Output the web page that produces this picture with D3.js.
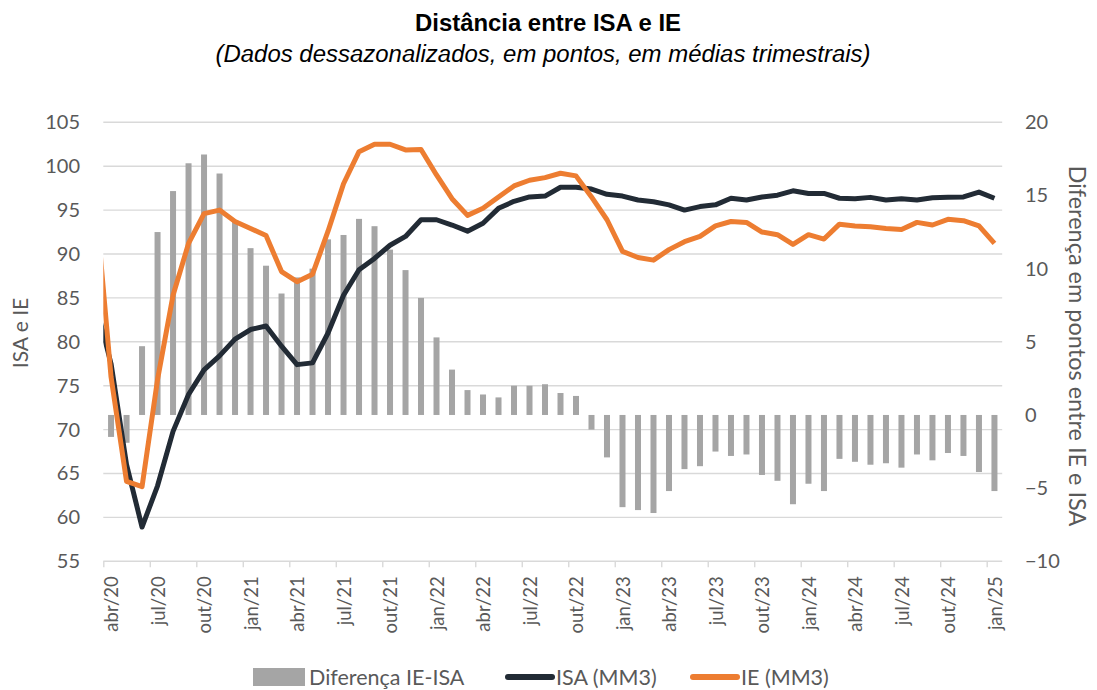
<!DOCTYPE html>
<html>
<head>
<meta charset="utf-8">
<script src="https://cdn.jsdelivr.net/npm/d3@7"></script>
<style>
body { margin: 0; background: #fff; }
svg text { font-family: Lato, "Open Sans", sans-serif; fill: #595959; }
</style>
</head>
<body>
<svg id="chart"></svg>
<script>
"use strict";

// months (mar/20 is only there so the lines enter the plot from the left edge)
var months = [
    "mar/20", "abr/20", "mai/20", "jun/20", "jul/20", "ago/20", "set/20", "out/20", "nov/20", "dez/20",
    "jan/21", "fev/21", "mar/21", "abr/21", "mai/21", "jun/21", "jul/21", "ago/21", "set/21", "out/21", "nov/21", "dez/21",
    "jan/22", "fev/22", "mar/22", "abr/22", "mai/22", "jun/22", "jul/22", "ago/22", "set/22", "out/22", "nov/22", "dez/22",
    "jan/23", "fev/23", "mar/23", "abr/23", "mai/23", "jun/23", "jul/23", "ago/23", "set/23", "out/23", "nov/23", "dez/23",
    "jan/24", "fev/24", "mar/24", "abr/24", "mai/24", "jun/24", "jul/24", "ago/24", "set/24", "out/24", "nov/24", "dez/24",
    "jan/25"
];

var tickLabels = ["abr/20", "jul/20", "out/20", "jan/21", "abr/21", "jul/21", "out/21", "jan/22", "abr/22", "jul/22",
    "out/22", "jan/23", "abr/23", "jul/23", "out/23", "jan/24", "abr/24", "jul/24", "out/24", "jan/25"];

var isa = [
    84.4, 77.5, 66.0, 58.9, 63.6, 69.8, 74.0, 76.8, 78.4, 80.3,
    81.4, 81.8, 79.5, 77.4, 77.6, 81.0, 85.3, 88.2, 89.5, 91.0, 92.0, 93.9,
    93.9, 93.3, 92.6, 93.5, 95.2, 96.0, 96.5, 96.6, 97.6, 97.6, 97.4, 96.8,
    96.6, 96.15, 95.95, 95.6, 95.0, 95.4, 95.6, 96.35, 96.15, 96.5, 96.7, 97.2,
    96.9, 96.9, 96.35, 96.3, 96.45, 96.15, 96.3, 96.15, 96.4, 96.45, 96.5, 97.05,
    96.35
];

var ie = [
    96.1, 76.0, 64.1, 63.5, 75.7, 85.3, 91.2, 94.6, 95.0, 93.7,
    92.9, 92.1, 88.0, 86.85, 87.7, 92.6, 98.0, 101.65, 102.5, 102.5, 101.85, 101.9,
    99.0, 96.3, 94.4, 95.2, 96.5, 97.75, 98.4, 98.7, 99.2, 98.9, 96.5, 93.9,
    90.3, 89.6, 89.3, 90.5, 91.4, 92.0, 93.2, 93.7, 93.6, 92.5, 92.2, 91.1,
    92.2, 91.7, 93.4, 93.2, 93.1, 92.9, 92.8, 93.6, 93.3, 93.95, 93.8, 93.2,
    91.2
];

// diferença IE-ISA (no bar for mar/20)
var diff = [
    null, -1.5, -1.9, 4.7, 12.5, 15.3, 17.2, 17.8, 16.5, 13.3,
    11.4, 10.2, 8.3, 9.4, 10.0, 12.0, 12.3, 13.4, 12.9, 11.3, 9.9, 8.0,
    5.3, 3.1, 1.7, 1.4, 1.2, 2.0, 2.0, 2.1, 1.5, 1.3, -1.0, -2.9,
    -6.3, -6.5, -6.7, -5.2, -3.7, -3.5, -2.5, -2.8, -2.7, -4.1, -4.5, -6.1,
    -4.7, -5.2, -3.0, -3.2, -3.4, -3.3, -3.6, -2.7, -3.1, -2.6, -2.8, -3.9,
    -5.2
];

var leftTicks = [55, 60, 65, 70, 75, 80, 85, 90, 95, 100, 105];
var rightTicks = [-10, -5, 0, 5, 10, 15, 20];

var svg_width = 1097;
var svg_height = 690;
var plotLeft = 103.3, plotRight = 1002.2, plotTop = 122.3, plotBottom = 561.3;

var grid_color = "#d9d9d9";
var isa_color = "#222b35";
var ie_color = "#ed7d31";
var bar_color = "#a5a5a5";

var svg = d3.select("#chart")
    .attr("width", svg_width)
    .attr("height", svg_height);

var xScale = d3.scaleLinear()
    .domain([0.5, months.length - 0.5])
    .range([plotLeft, plotRight]);
var yLeft = d3.scaleLinear().domain([55, 105]).range([plotBottom, plotTop]);
var yRight = d3.scaleLinear().domain([-10, 20]).range([plotBottom, plotTop]);

svg.append("defs").append("clipPath")
    .attr("id", "plot-clip")
    .append("rect")
    .attr("x", plotLeft)
    .attr("y", 0)
    .attr("width", plotRight - plotLeft)
    .attr("height", svg_height);

// gridlines
svg.append("g")
    .attr("class", "grid")
    .selectAll("line")
    .data(leftTicks)
    .join("line")
    .attr("x1", plotLeft)
    .attr("x2", plotRight)
    .attr("y1", function(d) {return yLeft(d);})
    .attr("y2", function(d) {return yLeft(d);})
    .attr("stroke", grid_color)
    .attr("stroke-width", 1.4);

// Eixo x
var xAxis = svg.append("g")
    .attr("class", "axis axis--x")
    .attr("transform", "translate(0," + plotBottom + ")")
    .call(d3.axisBottom(xScale)
        .tickValues(tickLabels.map(function(l) {return months.indexOf(l) - 0.5;}))
        .tickFormat(function(d) {return months[d + 0.5];})
        .tickSize(6)
        .tickSizeOuter(0));
xAxis.select(".domain").remove();
xAxis.selectAll(".tick line").attr("stroke", grid_color).attr("stroke-width", 1.4);
xAxis.selectAll(".tick text")
    .attr("transform", "rotate(-90)")
    .attr("text-anchor", "end")
    .attr("x", -15)
    .attr("y", 8)
    .attr("dy", "0.35em")
    .style("font-size", "18.5px")
    .style("font-family", "Lato, sans-serif")
    .attr("fill", "#595959");

// Eixo y esquerdo
var yAxisL = svg.append("g")
    .attr("class", "axis axis--y")
    .attr("transform", "translate(" + 80 + ",0)")
    .call(d3.axisLeft(yLeft).tickValues(leftTicks).tickSize(0).tickPadding(0));
yAxisL.select(".domain").remove();
yAxisL.selectAll("text")
    .style("font-size", "20px")
    .style("font-family", "Lato, sans-serif")
    .attr("fill", "#595959");

// Eixo y direito
var yAxisR = svg.append("g")
    .attr("class", "axis axis--y2")
    .attr("transform", "translate(" + 1025 + ",0)")
    .call(d3.axisRight(yRight).tickValues(rightTicks).tickSize(0).tickPadding(0));
yAxisR.select(".domain").remove();
yAxisR.selectAll("text")
    .style("font-size", "20px")
    .style("font-family", "Lato, sans-serif")
    .attr("fill", "#595959");

// barras
var barWidth = 6;
svg.append("g")
    .attr("class", "bars")
    .attr("clip-path", "url(#plot-clip)")
    .selectAll("rect")
    .data(diff.map(function(v, i) {return {i: i, v: v};}).filter(function(d) {return d.v !== null;}))
    .join("rect")
    .attr("x", function(d) {return xScale(d.i) - barWidth / 2;})
    .attr("width", barWidth)
    .attr("y", function(d) {return Math.min(yRight(d.v), yRight(0));})
    .attr("height", function(d) {return Math.abs(yRight(d.v) - yRight(0));})
    .attr("fill", bar_color);

// linhas
var line = d3.line()
    .x(function(d, i) {return xScale(i);})
    .y(function(d) {return yLeft(d);});

var lines = svg.append("g").attr("clip-path", "url(#plot-clip)");
lines.append("path")
    .datum(isa)
    .attr("d", line)
    .attr("fill", "none")
    .attr("stroke", isa_color)
    .attr("stroke-width", 5)
    .attr("stroke-linejoin", "round");
lines.append("path")
    .datum(ie)
    .attr("d", line)
    .attr("fill", "none")
    .attr("stroke", ie_color)
    .attr("stroke-width", 5)
    .attr("stroke-linejoin", "round");

// titulos
svg.append("text")
    .attr("x", 548)
    .attr("y", 31)
    .attr("text-anchor", "middle")
    .attr("textLength", 266)
    .attr("lengthAdjust", "spacingAndGlyphs")
    .style("font-family", "'Liberation Sans', Arial, sans-serif")
    .style("font-weight", "bold")
    .style("font-size", "23px")
    .style("fill", "#000")
    .text("Distância entre ISA e IE");
svg.append("text")
    .attr("x", 543)
    .attr("y", 62)
    .attr("text-anchor", "middle")
    .attr("textLength", 655)
    .attr("lengthAdjust", "spacingAndGlyphs")
    .style("font-family", "'Liberation Sans', Arial, sans-serif")
    .style("font-style", "italic")
    .style("font-size", "23px")
    .style("fill", "#000")
    .text("(Dados dessazonalizados, em pontos, em médias trimestrais)");

svg.append("text")
    .attr("transform", "translate(21,333) rotate(-90)")
    .attr("text-anchor", "middle")
    .attr("dy", "0.35em")
    .style("font-size", "21px")
    .text("ISA e IE");
svg.append("text")
    .attr("transform", "translate(1077,346) rotate(90)")
    .attr("text-anchor", "middle")
    .attr("dy", "0.35em")
    .style("font-size", "23.5px")
    .text("Diferença em pontos entre IE e ISA");

// legenda
var legend_y = 677;
var legend = svg.append("g").attr("class", "legend");
legend.append("rect")
    .attr("x", 253).attr("y", legend_y - 9).attr("width", 52).attr("height", 18)
    .attr("fill", bar_color);
legend.append("text").attr("x", 309).attr("y", legend_y).attr("dy", "0.35em")
    .style("font-size", "21.5px").text("Diferença IE-ISA");
legend.append("line")
    .attr("x1", 508).attr("x2", 552).attr("y1", legend_y).attr("y2", legend_y)
    .attr("stroke", isa_color).attr("stroke-width", 6).attr("stroke-linecap", "round");
legend.append("text").attr("x", 556).attr("y", legend_y).attr("dy", "0.35em")
    .style("font-size", "21.5px").text("ISA (MM3)");
legend.append("line")
    .attr("x1", 693).attr("x2", 737).attr("y1", legend_y).attr("y2", legend_y)
    .attr("stroke", ie_color).attr("stroke-width", 6).attr("stroke-linecap", "round");
legend.append("text").attr("x", 741).attr("y", legend_y).attr("dy", "0.35em")
    .style("font-size", "21.5px").text("IE (MM3)");
</script>
</body>
</html>
